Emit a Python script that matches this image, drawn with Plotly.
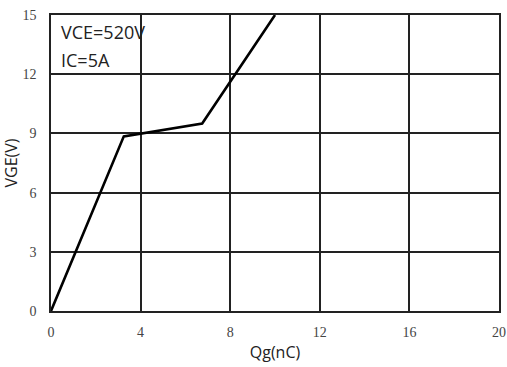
import plotly.graph_objects as go

qg = [0, 3.25, 6.75, 10.0]
vge = [0, 8.85, 9.5, 15.0]
x_ticks = [0, 4, 8, 12, 16, 20]
y_ticks = [0, 3, 6, 9, 12, 15]
notes = ["VCE=520V", "IC=5A"]

fig = go.Figure()
fig.add_trace(go.Scatter(x=qg, y=vge, mode="lines",
                         line=dict(color="black", width=2.6), showlegend=False))

axis_common = dict(showgrid=True, gridcolor="#222", gridwidth=1.6,
                   showline=True, linecolor="#222", linewidth=1.6, mirror=True,
                   zeroline=False, ticks="outside", tickcolor="rgba(0,0,0,0)",
                   automargin=False,
                   tickfont=dict(family="Liberation Serif", size=14, color="#444"))

fig.update_xaxes(range=[0, 20], tickvals=x_ticks, ticklen=7,
                 title=dict(text="Qg(nC)", font=dict(family="Open Sans", size=16, color="#222"), standoff=8),
                 **axis_common)
fig.update_yaxes(range=[0, 15], tickvals=y_ticks, ticklen=10,
                 title=dict(text="VGE(V)", font=dict(family="Open Sans", size=16, color="#222"), standoff=4),
                 **axis_common)

fig.add_annotation(x=0, y=1, xref="x domain", yref="y domain", xanchor="left", yanchor="middle",
                   xshift=8, yshift=-17, text=notes[0], showarrow=False,
                   font=dict(family="Open Sans", size=18, color="#222"))
fig.add_annotation(x=0, y=1, xref="x domain", yref="y domain", xanchor="left", yanchor="middle",
                   xshift=8, yshift=-45, text=notes[1], showarrow=False,
                   font=dict(family="Open Sans", size=18, color="#222"))

fig.update_layout(width=507, height=367, margin=dict(l=51, r=8, t=15, b=56),
                  plot_bgcolor="white", paper_bgcolor="white")

fig.write_html("out.html")
